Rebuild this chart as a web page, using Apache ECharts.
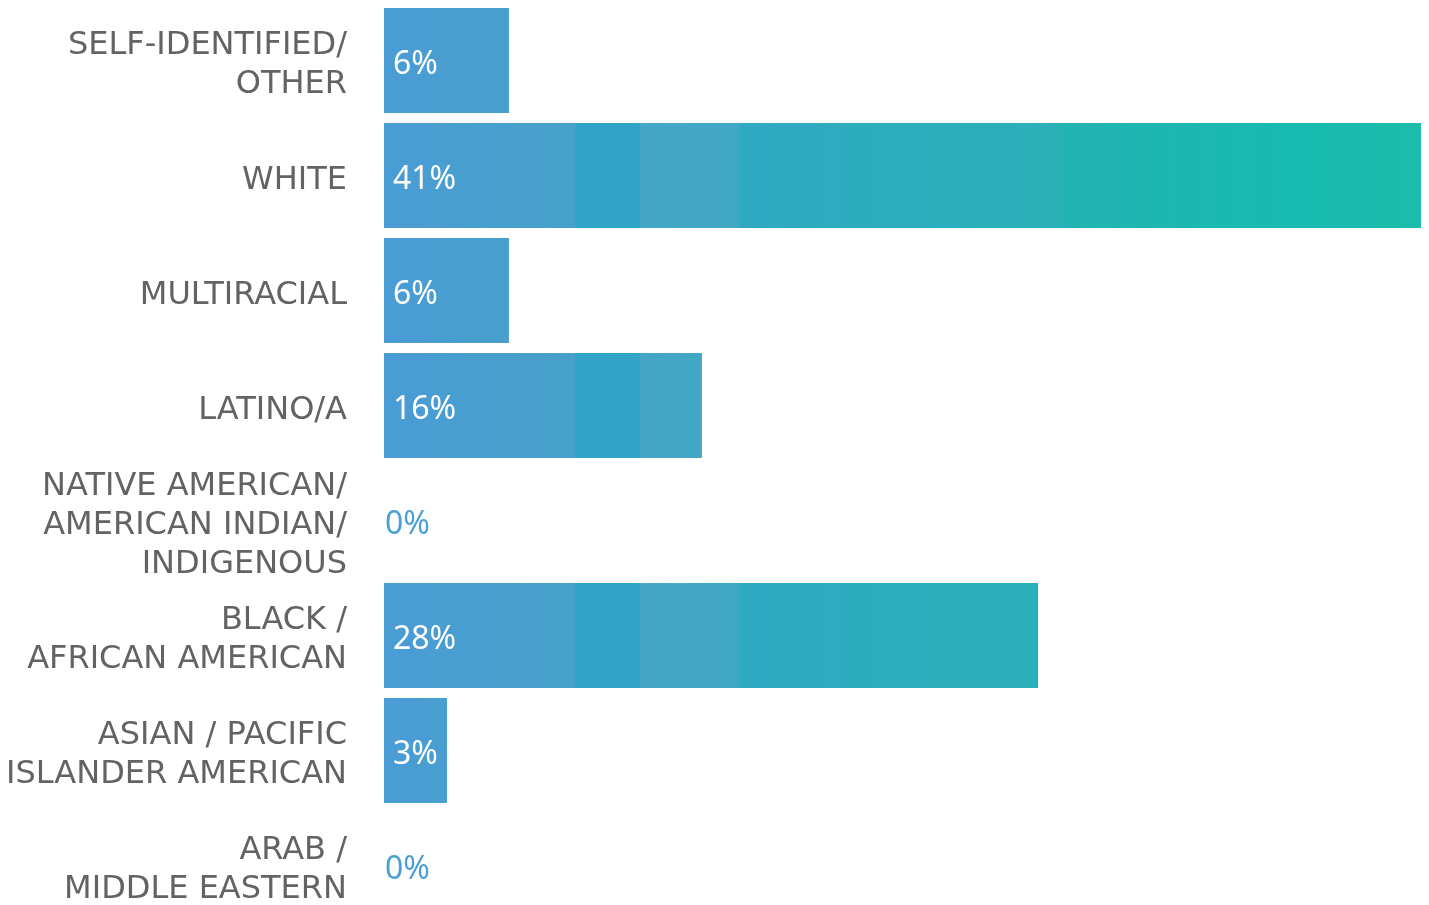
<!DOCTYPE html>
<html>
<head>
<meta charset="utf-8">
<script src="https://cdn.jsdelivr.net/npm/echarts@6/dist/echarts.min.js"></script>
<style>
  html, body { margin: 0; padding: 0; background: #fff; }
  #chart { width: 1429px; height: 905px; }
</style>
</head>
<body>
<div id="chart"></div>
<script>
// categories, top to bottom
const categories = [
  'SELF-IDENTIFIED/\nOTHER',
  'WHITE',
  'MULTIRACIAL',
  'LATINO/A',
  'NATIVE AMERICAN/\nAMERICAN INDIAN/\nINDIGENOUS',
  'BLACK /\nAFRICAN AMERICAN',
  'ASIAN / PACIFIC\nISLANDER AMERICAN',
  'ARAB /\nMIDDLE EASTERN'
]
// bar lengths (axis runs 0..41)
const barLengths = [4.94, 41, 4.94, 12.57, 0, 25.86, 2.49, 0]
// printed percentages
const valueLabels = ['6%', '41%', '6%', '16%', '0%', '28%', '3%', '0%']

const chart = echarts.init(document.getElementById('chart'))

const labelFont = '"DejaVu Sans", sans-serif'
const valueFont = '"Noto Sans", sans-serif'

// one gradient laid over the whole axis, so short bars only show the blue end
const barColor = {
  type: 'linear',
  x: 384, y: 0, x2: 1421, y2: 0,
  global: true,
  colorStops: [
    { offset: 0, color: '#4a9cd5' },
    { offset: 0.184, color: '#47a1c9' },
    { offset: 0.185, color: '#30a3c8' },
    { offset: 0.246, color: '#30a4c7' },
    { offset: 0.247, color: '#45a6c6' },
    { offset: 0.34, color: '#40a8c4' },
    { offset: 0.345, color: '#2fa9c2' },
    { offset: 0.65, color: '#2bb0b8' },
    { offset: 0.655, color: '#22b3b2' },
    { offset: 0.86, color: '#18b9b0' },
    { offset: 1, color: '#1bbcaa' }
  ]
}

const data = barLengths.map((v, i) => {
  const empty = v === 0
  return {
    value: v,
    label: {
      show: true,
      formatter: valueLabels[i],
      position: empty ? 'right' : 'insideLeft',
      distance: empty ? 1 : 9,
      offset: [0, 4],
      color: empty ? '#4a9fd4' : '#ffffff',
      fontSize: 32,
      fontFamily: valueFont
    }
  }
})

chart.setOption({
  animation: false,
  grid: {
    left: 384,
    right: 8,
    top: 3,
    height: 920,
    outerBoundsMode: 'none'
  },
  xAxis: {
    type: 'value',
    min: 0,
    max: 41,
    show: false
  },
  yAxis: {
    type: 'category',
    inverse: true,
    data: categories,
    axisLine: { show: false },
    axisTick: { show: false },
    axisLabel: {
      margin: 37,
      align: 'right',
      // a thin blank first line nudges the block a few pixels down
      formatter: (v) => '{s| }\n' + v.split('\n').map(l => '{a|' + l + '}').join('\n'),
      rich: {
        s: { fontSize: 1, lineHeight: 10 },
        a: {
          color: '#636363',
          fontSize: 32,
          lineHeight: 39,
          fontFamily: labelFont
        }
      }
    }
  },
  series: [{
    type: 'bar',
    barWidth: 105,
    itemStyle: { color: barColor },
    data: data
  }]
})
</script>
</body>
</html>
